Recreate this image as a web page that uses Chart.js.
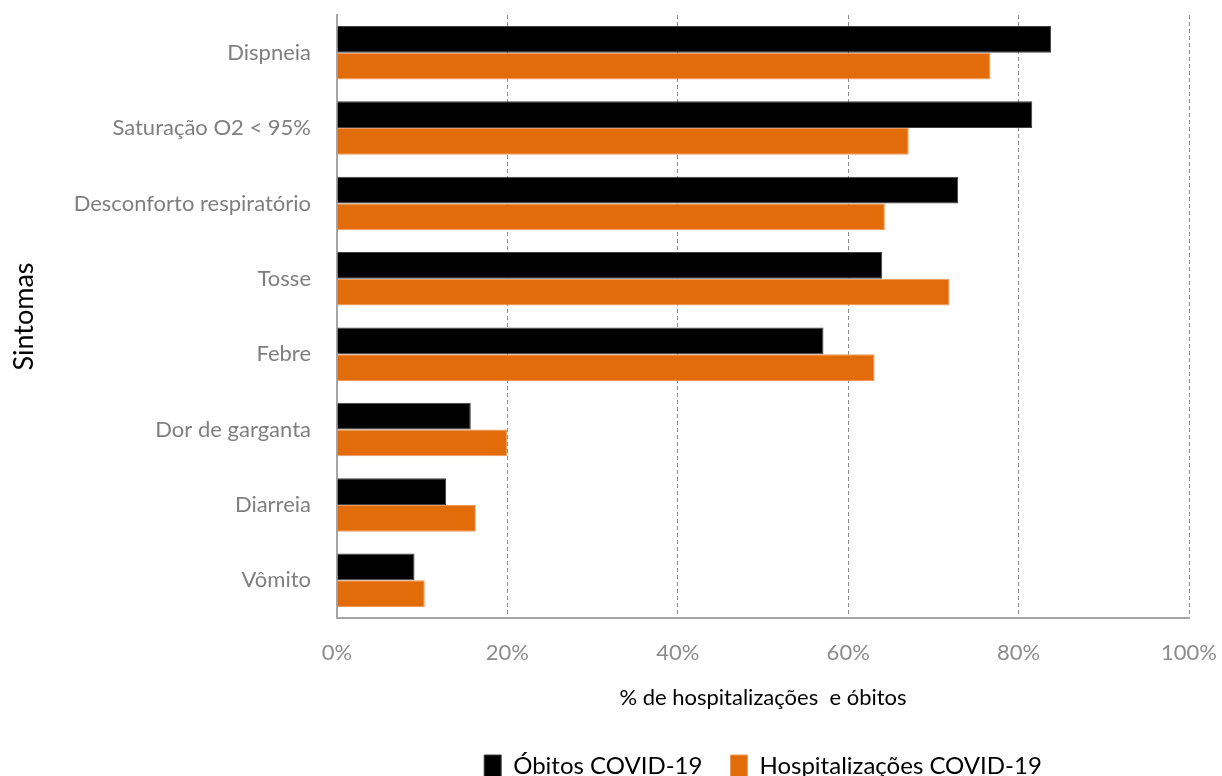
<!DOCTYPE html>
<html>
<head>
<meta charset="utf-8">
<script src="https://cdn.jsdelivr.net/npm/chart.js"></script>
<style>
  html, body { margin: 0; padding: 0; background: #fff; }
  #wrap { width: 1222px; height: 776px; }
</style>
</head>
<body>
<div id="wrap"><canvas id="chart"></canvas></div>
<script>
const categories = ['Dispneia', 'Saturação O2 < 95%', 'Desconforto respiratório', 'Tosse', 'Febre', 'Dor de garganta', 'Diarreia', 'Vômito'];
const obitos = [83.8, 81.6, 72.9, 64.0, 57.1, 15.7, 12.8, 9.1];
const hospitalizacoes = [76.7, 67.1, 64.3, 71.9, 63.1, 20.0, 16.3, 10.3];
const xTicks = [0, 20, 40, 60, 80, 100];

const fontFamily = 'Lato, "Open Sans", sans-serif';

const ctx = document.getElementById('chart').getContext('2d');
new Chart(ctx, {
    type: 'bar',
    data: {
        labels: categories,
        datasets: [{
            label: 'Óbitos COVID-19',
            data: obitos,
            backgroundColor: '#000000',
            borderColor: '#404040',
            borderWidth: 1,
            categoryPercentage: 0.71,
            barPercentage: 1
        }, {
            label: 'Hospitalizações COVID-19',
            data: hospitalizacoes,
            backgroundColor: '#e36c0a',
            borderColor: '#f09a5a',
            borderWidth: 1,
            categoryPercentage: 0.71,
            barPercentage: 1
        }]
    },
    options: {
        indexAxis: 'y',
        responsive: true,
        maintainAspectRatio: false,
        animation: false,
        // negative bottom padding pushes the legend down close to the edge
        layout: { padding: { top: 15, right: 33, left: 0, bottom: -12 } },
        plugins: {
            legend: {
                position: 'bottom',
                fullSize: false,
                labels: {
                    color: '#000',
                    font: { family: fontFamily, size: 24 },
                    boxWidth: 17,
                    boxHeight: 22,
                    padding: 28
                }
            },
            tooltip: { enabled: false }
        },
        scales: {
            x: {
                min: 0,
                max: 100,
                afterBuildTicks: scale => { scale.ticks = xTicks.map(v => ({ value: v })); },
                ticks: {
                    color: '#8c8c8c',
                    font: { family: fontFamily, size: 22 },
                    padding: 22,
                    callback: v => v + '%'
                },
                grid: {
                    color: ctx => ctx.tick && ctx.tick.value === 0 ? 'rgba(0,0,0,0)' : '#8c8c8c',
                    drawTicks: false
                },
                border: { color: '#a6a6a6', width: 2, dash: [4, 3] },
                title: {
                    display: true,
                    text: '% de hospitalizações  e óbitos',
                    color: '#000',
                    font: { family: fontFamily, size: 22 },
                    padding: { top: 8, bottom: 15 }
                },
                afterFit: scale => {
                    scale.height = 108;
                    scale.paddingLeft = 0;
                    scale.paddingRight = 0;
                }
            },
            y: {
                offset: true,
                grid: { display: false, drawTicks: false },
                border: { color: '#a6a6a6', width: 2 },
                ticks: {
                    color: '#7f7f7f',
                    font: { family: fontFamily, size: 22 },
                    padding: 26
                },
                title: {
                    display: true,
                    text: 'Sintomas',
                    color: '#000',
                    font: { family: fontFamily, size: 27 },
                    padding: { top: 8, bottom: 4 }
                },
                afterFit: scale => {
                    scale.width = 337;
                    scale.paddingTop = 0;
                    scale.paddingBottom = 0;
                }
            }
        }
    }
});
</script>
</body>
</html>
